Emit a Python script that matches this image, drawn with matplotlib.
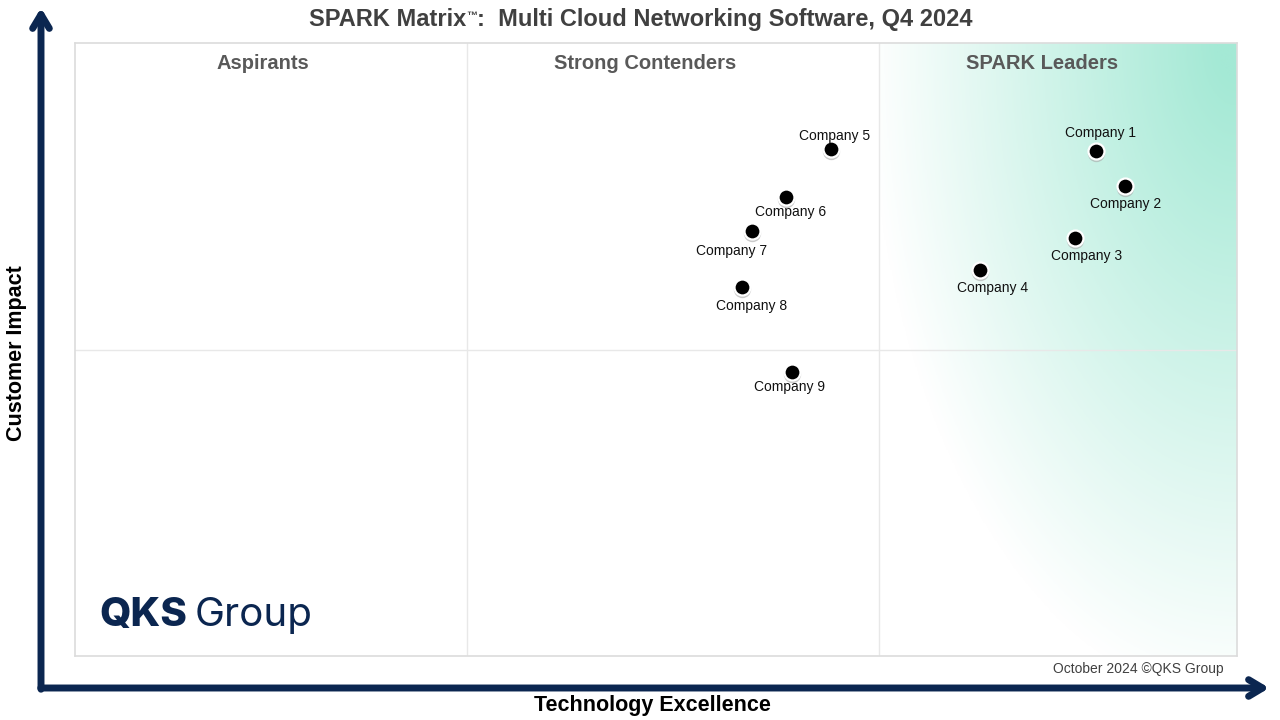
import numpy as np
import matplotlib.pyplot as plt
from matplotlib.colors import LinearSegmentedColormap

plt.rcParams['font.family'] = ['Liberation Sans', 'DejaVu Sans']

# vendor positions (0-100 on both axes)
companies = ['Company 1', 'Company 2', 'Company 3', 'Company 4', 'Company 5',
             'Company 6', 'Company 7', 'Company 8', 'Company 9']
tech_excellence = [87.9, 90.4, 86.1, 77.9, 65.1, 61.2, 58.3, 57.4, 61.7]
customer_impact = [82.4, 76.7, 68.2, 63.0, 82.7, 74.9, 69.3, 60.2, 46.3]
# label offset in points (dx, dy)
label_pos = [(3, 13), (0, -13), (8, -13), (9, -13), (2, 9.5),
             (3, -11), (-15, -14), (7, -14), (-2, -11)]

quadrants = ['Aspirants', 'Strong Contenders', 'SPARK Leaders']
quadrant_x = [16.2, 49.1, 83.2]
x_split = [33.7, 69.2]
y_split = 50

navy = '#0b2650'

fig = plt.figure(figsize=(12.8, 7.2), dpi=100)

# full-figure layer for the big arrows
bg = fig.add_axes([0, 0, 1, 1])
bg.set_xlim(0, 1280)
bg.set_ylim(720, 0)
bg.axis('off')
bg.annotate('', xy=(41, 5), xytext=(41, 692),
            arrowprops=dict(arrowstyle='->,head_length=1.0,head_width=0.6', lw=5, color=navy))
bg.annotate('', xy=(1272, 688), xytext=(38, 688),
            arrowprops=dict(arrowstyle='->,head_length=1.0,head_width=0.6', lw=5, color=navy))

ax = fig.add_axes([75 / 1280, 64 / 720, 1162 / 1280, 613 / 720])
ax.set_xlim(0, 100)
ax.set_ylim(0, 100)
ax.set_xticks([])
ax.set_yticks([])
for s in ax.spines.values():
    s.set_color('#dcdcdc')
    s.set_linewidth(1.2)

# leaders gradient: elliptical fade from the top-right corner
gx = np.linspace(x_split[1], 100, 300)
gy = np.linspace(0, 100, 600)
X, Y = np.meshgrid(gx, gy)
d = np.sqrt(((100 - X) * 11.62 / 370) ** 2 + ((100 - Y) * 6.13 / 660) ** 2)
inten = np.clip(1 - d, 0, 1)
cmap = LinearSegmentedColormap.from_list('lead', ['#ffffff', '#a4e9d5'])
ax.imshow(inten, extent=(x_split[1], 100, 0, 100), origin='lower', cmap=cmap,
          vmin=0, vmax=0.95, aspect='auto', zorder=0)

for xv in x_split:
    ax.axvline(xv, color='#e8e8e8', lw=1, zorder=1)
ax.axhline(y_split, color='#e8e8e8', lw=1, zorder=1)

for name, cx in zip(quadrants, quadrant_x):
    ax.text(cx, 96.6, name, ha='center', va='center', fontsize=14.5,
            fontweight='bold', color='#595959')

# points with soft shadow below
sy = [v - 0.35 for v in customer_impact]
ax.plot(tech_excellence, sy, 'o', ms=12.5, color='#a8a8a8', mec='none',
        zorder=2, alpha=0.6, linestyle='none')
ax.plot(tech_excellence, customer_impact, 'o', ms=11.5, color='black',
        mec='white', mew=1.6, zorder=3, linestyle='none')

for name, x, y, (dx, dy) in zip(companies, tech_excellence, customer_impact, label_pos):
    ax.annotate(name, (x, y), xytext=(dx, dy), textcoords='offset points',
                ha='center', va='center', fontsize=10, color='#111111', zorder=4)

# logo
qks = ax.text(2.1, 6.6, 'QKS', fontsize=29, fontweight='heavy', color=navy,
              ha='left', va='center', family=['Inter', 'Liberation Sans'])

# title in three pieces so the trademark sign can be small and raised
t1 = fig.text(0, 0, 'SPARK Matrix', fontsize=17, fontweight='bold', color='#404040',
              va='baseline')
t2 = fig.text(0, 0, '\u2122', fontsize=8, fontweight='bold', color='#404040', va='baseline')
t3 = fig.text(0, 0, ':  Multi Cloud Networking Software, Q4 2024', fontsize=17,
              fontweight='bold', color='#404040', va='baseline')

fig.canvas.draw()
bb = qks.get_window_extent()
gx0 = ax.transData.inverted().transform((bb.x1 + 7, 0))[0]
ax.text(gx0, 6.6, 'Group', fontsize=29, fontweight='normal', color=navy, ha='left',
        va='center', family=['Inter', 'Liberation Sans'])

w1 = t1.get_window_extent().width
w2 = t2.get_window_extent().width
w3 = t3.get_window_extent().width
x0 = 641 - (w1 + w2 + w3) / 2
base = 720 - 26
t1.set_position((x0 / 1280, base / 720))
t2.set_position(((x0 + w1) / 1280, (base + 7) / 720))
t3.set_position(((x0 + w1 + w2) / 1280, base / 720))

fig.text(1224 / 1280, 1 - 669 / 720, 'October 2024 \u00a9QKS Group', ha='right',
         va='center', fontsize=10, color='#404040')
fig.text(652 / 1280, 1 - 705 / 720, 'Technology Excellence', ha='center', va='center',
         fontsize=15.5, fontweight='bold', color='black')
fig.text(17 / 1280, 1 - 353 / 720, 'Customer Impact', ha='center', va='center',
         rotation=90, fontsize=15.5, fontweight='bold', color='black')

fig.savefig('out.png', dpi=100, facecolor='white')
